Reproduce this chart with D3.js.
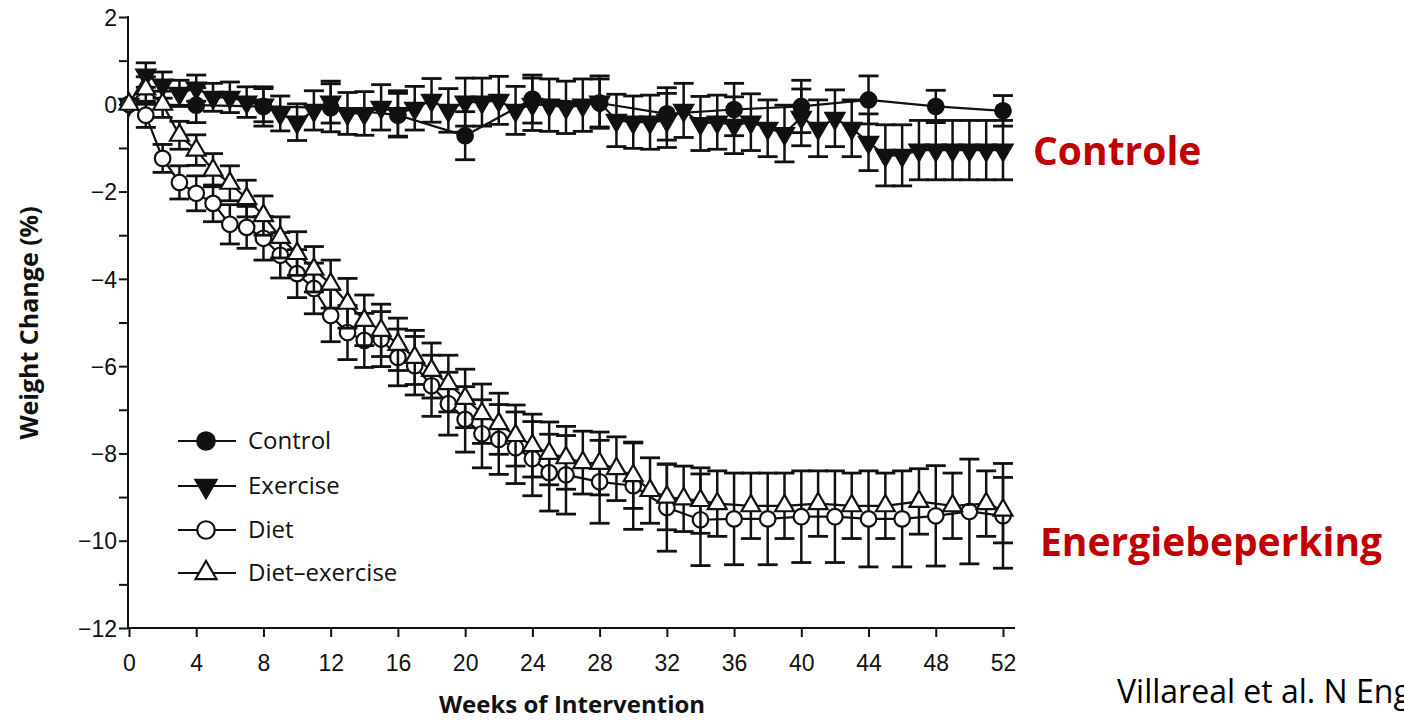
<!DOCTYPE html>
<html>
<head>
<meta charset="utf-8">
<script src="https://cdn.jsdelivr.net/npm/d3@7"></script>
<style>
  body { margin: 0; background: #fff; overflow: hidden; }
  svg { display: block; font-family: "Open Sans", "DejaVu Sans", sans-serif; }
</style>
</head>
<body>
<div id="chart"></div>
<script>
// ==== Data ====
const controlWeeks = [0, 4, 8, 12, 16, 20, 24, 28, 32, 36, 40, 44, 48, 52];
const controlMean  = [0, -0.02, -0.05, -0.08, -0.25, -0.72, 0.12, 0.03, -0.22, -0.12, -0.05, 0.1, -0.05, -0.15];
const controlSE    = [0, 0.4, 0.45, 0.55, 0.5, 0.55, 0.55, 0.55, 0.6, 0.6, 0.6, 0.55, 0.37, 0.35];

const exerciseWeeks = [0,1,2,3,4,5,6,7,8,9,10,11,12,13,14,15,16,17,18,19,20,21,22,23,24,25,26,
  27,28,29,30,31,32,33,34,35,36,37,38,39,40,41,42,43,44,45,46,47,48,49,50,51,52];
const exerciseMean = [0, 0.67, 0.44, 0.25, 0.37, 0.16, 0.16, 0.05, -0.02, -0.21, -0.41, -0.14, 0.05,
  -0.21, -0.21, -0.07, -0.21, -0.09, 0.09, -0.14, 0.05, 0.05, 0.09, -0.14, 0.0, -0.02, -0.07,
  -0.02, 0.05, -0.37, -0.41, -0.41, -0.37, -0.14, -0.44, -0.41, -0.48, -0.41, -0.55, -0.67, -0.3,
  -0.55, -0.32, -0.55, -0.87, -1.17, -1.17, -1.05, -1.05, -1.05, -1.05, -1.05, -1.05];
const exerciseSE = [0, 0.28, 0.3, 0.3, 0.3, 0.32, 0.35, 0.35, 0.38, 0.4, 0.42, 0.45, 0.48,
  0.48, 0.5, 0.52, 0.52, 0.5, 0.5, 0.5, 0.55, 0.55, 0.55, 0.55, 0.6, 0.6, 0.6,
  0.6, 0.6, 0.6, 0.6, 0.62, 0.62, 0.62, 0.62, 0.62, 0.65, 0.65, 0.65, 0.65, 0.65,
  0.65, 0.65, 0.65, 0.65, 0.7, 0.7, 0.68, 0.68, 0.68, 0.68, 0.68, 0.68];

const dietWeeks = [0,1,2,3,4,5,6,7,8,9,10,11,12,13,14,15,16,17,18,19,20,21,22,23,24,25,26,
  28,30,32,34,36,38,40,42,44,46,48,50,52];
const dietMean = [0, -0.25, -1.24, -1.79, -2.04, -2.27, -2.75, -2.82, -3.07, -3.46, -3.88, -4.22, -4.84,
  -5.23, -5.41, -5.38, -5.8, -5.99, -6.45, -6.86, -7.22, -7.55, -7.68, -7.87, -8.12, -8.44, -8.49,
  -8.65, -8.74, -9.24, -9.52, -9.5, -9.5, -9.45, -9.45, -9.5, -9.5, -9.43, -9.33, -9.43];
const dietSE = [0, 0.28, 0.32, 0.38, 0.4, 0.42, 0.45, 0.48, 0.5, 0.52, 0.55, 0.58, 0.6,
  0.62, 0.62, 0.63, 0.65, 0.67, 0.7, 0.72, 0.75, 0.78, 0.8, 0.82, 0.85, 0.88, 0.9,
  0.95, 1.0, 1.0, 1.05, 1.05, 1.05, 1.05, 1.05, 1.1, 1.1, 1.15, 1.2, 1.2];

const dietExWeeks = [0,1,2,3,4,5,6,7,8,9,10,11,12,13,14,15,16,17,18,19,20,21,22,23,24,25,26,
  27,28,29,30,31,32,33,34,35,37,39,41,43,45,47,49,51,52];
const dietExMean = [0, 0.35, 0.0, -0.71, -1.05, -1.51, -1.81, -2.16, -2.55, -3.05, -3.42, -3.78, -4.12,
  -4.56, -4.95, -5.18, -5.5, -5.8, -6.1, -6.4, -6.74, -7.09, -7.32, -7.59, -7.82, -8.0, -8.1,
  -8.21, -8.23, -8.35, -8.51, -8.85, -9.0, -9.04, -9.08, -9.15, -9.2, -9.2, -9.15, -9.2, -9.2,
  -9.1, -9.2, -9.15, -9.3];
const dietExSE = [0, 0.28, 0.3, 0.32, 0.35, 0.38, 0.4, 0.42, 0.45, 0.47, 0.5, 0.52, 0.55,
  0.57, 0.58, 0.6, 0.6, 0.62, 0.63, 0.65, 0.67, 0.68, 0.7, 0.7, 0.72, 0.72, 0.72,
  0.72, 0.72, 0.73, 0.75, 0.75, 0.75, 0.75, 0.75, 0.75, 0.75, 0.75, 0.75, 0.75, 0.75,
  0.75, 0.75, 0.75, 0.75];

const legendLabels = ["Control", "Exercise", "Diet", "Diet\u2013exercise"];
const yMajorTicks = [2, 0, -2, -4, -6, -8, -10, -12];
const yMinorTicks = [1, -1, -3, -5, -7, -9, -11];
const xTicks = [0, 4, 8, 12, 16, 20, 24, 28, 32, 36, 40, 44, 48, 52];

// ==== Setup ====
const width = 1404, height = 721;
const svg = d3.select("#chart").append("svg")
  .attr("width", width)
  .attr("height", height);

const x = d3.scaleLinear().domain([0, 52]).range([129, 1003]);
const y = d3.scaleLinear().domain([-12, 2]).range([628, 17]);

const ink = "#111";

// axes
const yAxis = svg.append("g").attr("transform", "translate(128,0)")
  .call(d3.axisLeft(y).tickValues(yMajorTicks).tickSize(9).tickSizeOuter(0));
svg.append("g").attr("transform", "translate(128,0)")
  .call(d3.axisLeft(y).tickValues(yMinorTicks).tickSize(9).tickFormat(""))
  .select(".domain").remove();
const xAxis = svg.append("g").attr("transform", "translate(0,628)")
  .call(d3.axisBottom(x).tickValues(xTicks).tickSize(9).tickSizeOuter(0));

[yAxis, xAxis].forEach(a => {
  a.select(".domain").remove();
  a.selectAll(".tick text").attr("fill", ink).style("font-size", "23px");
});
svg.selectAll(".tick line").attr("stroke", ink).attr("stroke-width", 2);
yAxis.selectAll(".tick text").attr("x", -11).attr("dy", "0.36em");
xAxis.selectAll(".tick text").attr("y", 27);

svg.append("line").attr("x1", 128).attr("x2", 128).attr("y1", y(2) - 1).attr("y2", y(-12) + 1)
  .attr("stroke", ink).attr("stroke-width", 2);
svg.append("line").attr("x1", 127).attr("x2", x(52) + 12).attr("y1", y(-12)).attr("y2", y(-12))
  .attr("stroke", ink).attr("stroke-width", 2);

svg.append("text")
  .attr("transform", `translate(38,323) rotate(-90)`)
  .attr("text-anchor", "middle")
  .attr("font-weight", "bold").attr("font-size", 25).attr("fill", ink)
  .text("Weight Change (%)");
svg.append("text")
  .attr("x", 572).attr("y", 713)
  .attr("text-anchor", "middle")
  .attr("font-weight", "bold").attr("font-size", 24).attr("fill", ink)
  .text("Weeks of Intervention");

// ==== Series ====
const series = [
  { weeks: controlWeeks, mean: controlMean, se: controlSE, shape: "circle", fill: ink },
  { weeks: exerciseWeeks, mean: exerciseMean, se: exerciseSE, shape: "down", fill: ink },
  { weeks: dietWeeks, mean: dietMean, se: dietSE, shape: "circle", fill: "#fff" },
  { weeks: dietExWeeks, mean: dietExMean, se: dietExSE, shape: "up", fill: "#fff" }
];

function symbolPath(shape, big) {
  if (shape === "circle") return d3.symbol(d3.symbolCircle, big ? 240 : 190)();
  return d3.symbol(d3.symbolTriangle, big ? 190 : 155)();
}

const cap = 10;
const line = d3.line().x(d => x(d.w)).y(d => y(d.m));

series.forEach(s => {
  const pts = s.weeks.map((w, i) => ({ w, m: s.mean[i], e: s.se[i] }));
  const g = svg.append("g");

  // error bars
  const eb = g.selectAll(".eb").data(pts.filter(p => p.e > 0)).join("g");
  eb.append("line")
    .attr("x1", d => x(d.w)).attr("x2", d => x(d.w))
    .attr("y1", d => y(d.m + d.e)).attr("y2", d => y(d.m - d.e))
    .attr("stroke", ink).attr("stroke-width", 2.5);
  [1, -1].forEach(sign => {
    eb.append("line")
      .attr("x1", d => x(d.w) - cap).attr("x2", d => x(d.w) + cap)
      .attr("y1", d => y(d.m + sign * d.e)).attr("y2", d => y(d.m + sign * d.e))
      .attr("stroke", ink).attr("stroke-width", 2.8);
  });

  g.append("path").datum(pts)
    .attr("d", line).attr("fill", "none")
    .attr("stroke", ink).attr("stroke-width", 2.2);

  g.selectAll(".mk").data(pts).join("path")
    .attr("d", symbolPath(s.shape))
    .attr("transform", d => `translate(${x(d.w)},${y(d.m)})` + (s.shape === "down" ? " rotate(180)" : ""))
    .attr("fill", s.fill).attr("stroke", ink).attr("stroke-width", 2.2);
});

// ==== Legend ====
const legend = svg.append("g");
legendLabels.forEach((lab, i) => {
  const ly = [441, 486, 530, 573][i];
  const s = series[i];
  legend.append("line").attr("x1", 178).attr("x2", 236).attr("y1", ly).attr("y2", ly)
    .attr("stroke", ink).attr("stroke-width", 2.2);
  legend.append("path").attr("d", symbolPath(s.shape, true))
    .attr("transform", `translate(206,${ly})` + (s.shape === "down" ? " rotate(180)" : ""))
    .attr("fill", s.fill).attr("stroke", ink).attr("stroke-width", 2.2);
  legend.append("text").attr("x", 248).attr("y", ly).attr("dy", "0.35em")
    .attr("font-size", 24).attr("fill", ink).text(lab);
});

// ==== Annotations ====
svg.append("text").attr("x", 1033).attr("y", 165)
  .attr("font-weight", "bold").attr("font-size", 39).attr("fill", "#c00000")
  .text("Controle");
svg.append("text").attr("x", 1040).attr("y", 556)
  .attr("font-weight", "bold").attr("font-size", 39).attr("fill", "#c00000")
  .text("Energiebeperking");
svg.append("text").attr("x", 1117).attr("y", 703)
  .attr("font-size", 32).attr("fill", "#000")
  .text("Villareal et al. N Engl J Med");
</script>
</body>
</html>
